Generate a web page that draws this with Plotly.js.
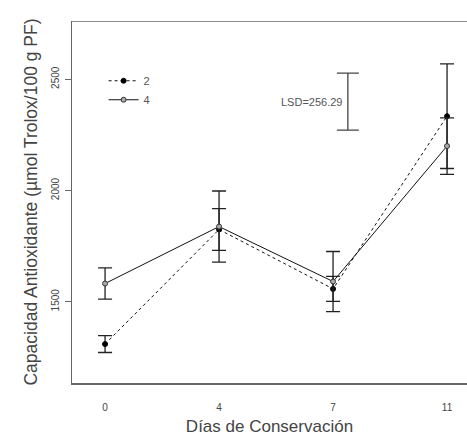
<!DOCTYPE html>
<html>
<head>
<meta charset="utf-8">
<script src="https://cdn.plot.ly/plotly-3.0.1.min.js"></script>
<style>html,body{margin:0;padding:0;background:#fff;}#chart{width:467px;height:441px;}</style>
</head>
<body>
<div id="chart"></div>
<script>
var days = ['0', '4', '7', '11'];
var dayIndex = [0, 1, 2, 3];
var series2 = [1310, 1825, 1558, 2334];
var series2Err = [38, 94, 56, 235];
var series4 = [1582, 1838, 1591, 2200];
var series4Err = [70, 160, 135, 127];
var lsdValue = 256.29;
var lsdCenter = 2400;
var lsdPos = 2.13;

var traces = [
  {
    x: dayIndex, y: series2, name: '2', type: 'scatter', mode: 'lines+markers',
    line: {color: '#111', width: 1, dash: '3px,3px'},
    marker: {symbol: 'circle', size: 5, color: '#000', line: {color: '#000', width: 1}},
    error_y: {type: 'data', array: series2Err, visible: true, color: '#222', thickness: 1.3, width: 7}
  },
  {
    x: dayIndex, y: series4, name: '4', type: 'scatter', mode: 'lines+markers',
    line: {color: '#111', width: 1},
    marker: {symbol: 'circle', size: 5, color: '#aaa', line: {color: '#333', width: 1}},
    error_y: {type: 'data', array: series4Err, visible: true, color: '#222', thickness: 1.3, width: 7}
  },
  {
    x: [lsdPos], y: [lsdCenter], type: 'scatter', mode: 'markers', showlegend: false,
    marker: {size: 0.1, color: 'rgba(0,0,0,0)'},
    error_y: {type: 'data', array: [lsdValue / 2], visible: true, color: '#444', thickness: 1.3, width: 11}
  }
];

var layout = {
  width: 467, height: 441,
  margin: {l: 72, r: 0, t: 21, b: 58},
  paper_bgcolor: '#fff', plot_bgcolor: '#fff',
  font: {family: 'Liberation Sans, Arial, sans-serif', color: '#444'},
  showlegend: true,
  legend: {x: 0.08, y: 0.875, xanchor: 'left', yanchor: 'top', bgcolor: 'rgba(0,0,0,0)',
           font: {size: 11, color: '#555'}, tracegroupgap: 0, itemwidth: 30},
  xaxis: {
    range: [-0.29, 3.175], tickvals: dayIndex, ticktext: days,
    showgrid: false, zeroline: false, showline: true, mirror: false,
    linecolor: '#666', linewidth: 1.5, ticks: '', ticklabelstandoff: 14,
    tickfont: {size: 10, color: '#444'},
    title: {text: 'Días de Conservación', font: {size: 17, color: '#444'}, standoff: 8}
  },
  xaxis2: {
    overlaying: 'x', side: 'top', anchor: 'y', range: [-0.29, 3.175],
    showgrid: false, zeroline: false, showline: true, showticklabels: false, ticks: '',
    linecolor: '#666', linewidth: 1.5
  },
  yaxis: {
    range: [1135, 2762], tickvals: [1500, 2000, 2500],
    showgrid: false, zeroline: false, showline: true, mirror: false,
    linecolor: '#666', linewidth: 1.5, ticks: 'outside', ticklen: 6, tickcolor: '#666',
    tickangle: -90, tickfont: {size: 10, color: '#444'}, ticklabelstandoff: 2,
    title: {text: 'Capacidad Antioxidante (µmol Trolox/100 g PF)', font: {size: 17.5, color: '#444'}, standoff: 7}
  },
  shapes: [
    {type: 'line', xref: 'x', yref: 'y', x0: -0.29, x1: 3.175, y0: 2762, y1: 2762,
     layer: 'above', line: {color: '#666', width: 1.5}}
  ],
  annotations: [
    {x: lsdPos, y: lsdCenter, xref: 'x', yref: 'y', text: 'LSD=' + lsdValue, showarrow: false,
     xanchor: 'right', yanchor: 'middle', xshift: -4, font: {size: 11, color: '#555'}}
  ]
};

Plotly.newPlot('chart', traces, layout, {displayModeBar: false, staticPlot: true});
</script>
</body>
</html>
